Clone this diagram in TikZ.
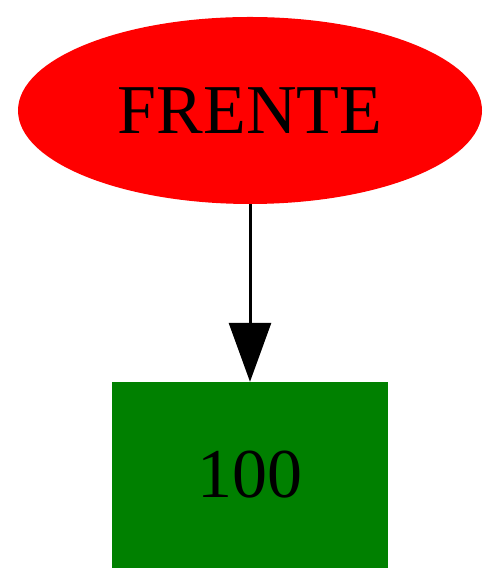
\documentclass[tikz,border=0pt]{standalone}
\usepackage{fontspec}
\setmainfont{Liberation Serif}
\usetikzlibrary{shapes.geometric,arrows.meta}
\definecolor{gvgreen}{RGB}{0,128,0}
\tikzset{
  ellnode/.style={ellipse, fill=red, draw=none, minimum width=464pt, minimum height=187pt, inner sep=0pt, font=\fontsize{70}{84}\selectfont},
  boxnode/.style={rectangle, fill=gvgreen, draw=none, minimum width=276pt, minimum height=186pt, inner sep=0pt, font=\fontsize{70}{84}\selectfont},
  edge/.style={line width=3pt, -{Triangle[length=59pt, width=42pt]}}
}
\begin{document}
\begin{tikzpicture}[x=1pt,y=1pt]
\useasboundingbox (0,0) rectangle (500,586);
\node[ellnode] (frente) at (250,475.5) {FRENTE};
\node[boxnode] (n100) at (250,111) {100};
\draw[edge] (frente) -- (n100);
\end{tikzpicture}
\end{document}
